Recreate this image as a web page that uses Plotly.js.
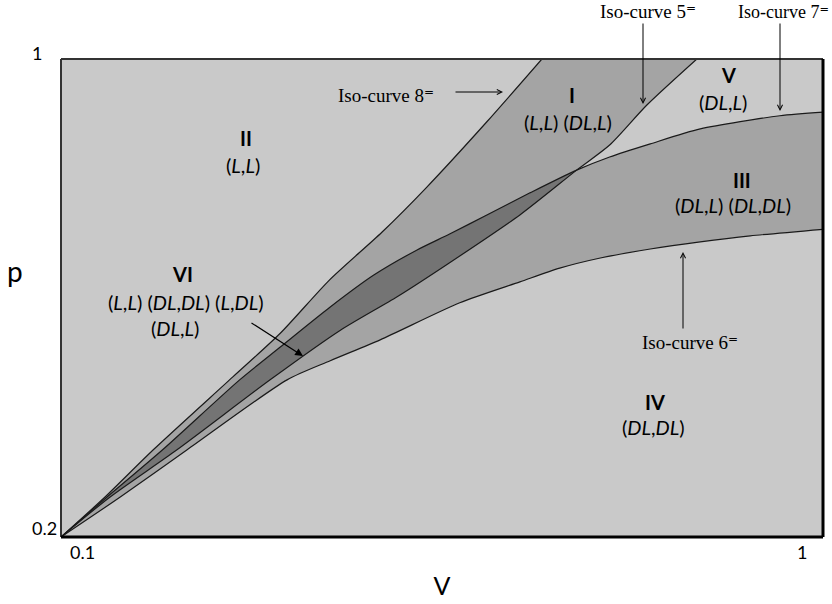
<!DOCTYPE html>
<html><head><meta charset="utf-8">
<script src="https://cdn.plot.ly/plotly-3.0.1.min.js"></script>
<style>html,body{margin:0;padding:0;background:#fff}</style>
</head><body><div id="chart" style="width:832px;height:604px"></div>
<script>
// Iso-curve 8 (steepest, upper-left boundary)
const curve8X = [0.100, 0.152, 0.209, 0.303, 0.359, 0.417, 0.479, 0.531, 0.603, 0.668];
const curve8Y = [0.200, 0.267, 0.346, 0.468, 0.541, 0.630, 0.710, 0.784, 0.895, 1.000];
// Iso-curve 7 (concave, upper)
const curve7X = [0.100, 0.152, 0.220, 0.311, 0.359, 0.418, 0.469, 0.520, 0.559, 0.603, 0.654, 0.709, 0.748, 0.796, 0.855, 0.949, 1.000];
const curve7Y = [0.200, 0.264, 0.346, 0.463, 0.518, 0.585, 0.638, 0.680, 0.707, 0.739, 0.776, 0.814, 0.836, 0.858, 0.883, 0.905, 0.911];
// Iso-curve 5
const curve5X = [0.100, 0.158, 0.237, 0.347, 0.430, 0.497, 0.559, 0.642, 0.709, 0.748, 0.792, 0.851];
const curve5Y = [0.200, 0.267, 0.346, 0.463, 0.546, 0.602, 0.659, 0.739, 0.814, 0.856, 0.923, 1.000];
// Iso-curve 6 (concave, lower)
const curve6X = [0.100, 0.170, 0.249, 0.367, 0.418, 0.477, 0.571, 0.642, 0.689, 0.737, 0.796, 0.855, 0.914, 1.000];
const curve6Y = [0.200, 0.267, 0.346, 0.463, 0.495, 0.530, 0.592, 0.627, 0.650, 0.667, 0.682, 0.694, 0.704, 0.715];
// crossing of curves 7 and 5
const crossX = 0.709;

const xTickVals = [0.1, 1];
const xTickText = ['0.1', '1'];
const yTickVals = [0.2, 1];
const yTickText = ['0.2', '1'];

const BG = '#c9c9c9', MID = '#a4a4a4', DARK = '#747474', LINE = '#1a1a1a';
const SANS = 'Lato, "Open Sans", sans-serif';
const SERIF = '"Liberation Serif", "DejaVu Serif", serif';
const SM = 0.7;

const n7 = curve7X.filter(v => v <= crossX).length, n5 = curve5X.filter(v => v <= crossX).length;

const base = (x, y) => ({x, y, type: 'scatter', mode: 'lines', line: {width: 0, shape: 'spline', smoothing: SM},
  hoverinfo: 'skip', showlegend: false});
const fillTo = (x, y, c) => Object.assign(base(x, y), {fill: 'tonexty', fillcolor: c});
const lineTrace = (x, y) => ({x, y, type: 'scatter', mode: 'lines',
  line: {color: LINE, width: 1.2, shape: 'spline', smoothing: SM}, showlegend: false});

const data = [
  base(curve5X, curve5Y),
  fillTo(curve8X, curve8Y, MID),
  base(curve6X, curve6Y),
  fillTo(curve7X, curve7Y, MID),
  base(curve5X.slice(0, n5), curve5Y.slice(0, n5)),
  fillTo(curve7X.slice(0, n7), curve7Y.slice(0, n7), DARK),
  lineTrace(curve8X, curve8Y),
  lineTrace(curve7X, curve7Y),
  lineTrace(curve5X, curve5Y),
  lineTrace(curve6X, curve6Y)
];

const L = 61, R = 823, T = 59, B = 537;
const PX = px => (px - L) / (R - L);
const PY = py => (B - py) / (B - T);

const txt = (px, py, text, size, fam) => ({xref: 'paper', yref: 'paper', x: PX(px), y: PY(py), text, showarrow: false,
  font: {family: fam || SANS, size: size || 20, color: '#000'}, xanchor: 'center', yanchor: 'middle'});
const arr = (px, py, ax, ay, head, w, size) => ({xref: 'paper', yref: 'paper', x: PX(px), y: PY(py), text: '', showarrow: true,
  ax, ay, arrowhead: head, arrowwidth: w, arrowsize: size, arrowcolor: '#000'});

const ann = [
  txt(246, 138, '<b>II</b>'), txt(243, 165, '(<i>L</i>,<i>L</i>)'),
  txt(572, 95, '<b>I</b>'), txt(568, 122, '(<i>L</i>,<i>L</i>) (<i>DL</i>,<i>L</i>)'),
  txt(728, 75, '<b>V</b>'), txt(723, 102, '(<i>DL</i>,<i>L</i>)'),
  txt(742, 180, '<b>III</b>'), txt(733, 205, '(<i>DL</i>,<i>L</i>) (<i>DL</i>,<i>DL</i>)'),
  txt(655, 402, '<b>IV</b>'), txt(653, 427, '(<i>DL</i>,<i>DL</i>)'),
  txt(182, 274, '<b>VI</b>'), txt(186, 302, '(<i>L</i>,<i>L</i>) (<i>DL</i>,<i>DL</i>) (<i>L</i>,<i>DL</i>)'), txt(175, 328, '(<i>DL</i>,<i>L</i>)'),
  txt(386, 96, 'Iso-curve 8⁼', 19, SERIF),
  txt(648, 12, 'Iso-curve 5⁼', 19, SERIF),
  txt(783, 12, 'Iso-curve 7⁼', 18, SERIF),
  txt(690, 342, 'Iso-curve 6⁼', 19, SERIF),
  txt(15, 271, 'p', 28),
  arr(503, 92, -49, 0, 5, 1, 1),
  arr(643, 104, 0, -82, 5, 1, 1),
  arr(780, 111, 0, -89, 5, 1, 1),
  arr(683, 252, 0, 78, 5, 1, 1),
  arr(303, 356, -53, -34, 2, 1.2, 1.3)
];
// tick labels from arrays, placed through the axis scales
xTickVals.forEach((v, i) => ann.push({xref: 'x', yref: 'paper', x: v, y: 0, yshift: -28, xshift: i === 0 ? 21 : -21,
  text: xTickText[i], showarrow: false, font: {family: SANS, size: 18, color: '#000'}}));
yTickVals.forEach((v, i) => ann.push({xref: 'paper', yref: 'y', x: 0, y: v, xshift: -31, yshift: i === 0 ? 9 : 6,
  text: yTickText[i], showarrow: false, font: {family: SANS, size: 18, color: '#000'}}));

const layout = {
  width: 832, height: 604,
  margin: {l: L, r: 832 - R, t: T, b: 604 - B, pad: 0},
  paper_bgcolor: '#fff', plot_bgcolor: BG,
  xaxis: {range: [0.1, 1], showgrid: false, zeroline: false, showticklabels: false, ticks: '', showline: false,
    title: {text: 'V', font: {family: SANS, size: 25, color: '#000'}, standoff: 40}},
  yaxis: {range: [0.2, 1], showgrid: false, zeroline: false, showticklabels: false, ticks: '', showline: false},
  shapes: [
    {type: 'line', xref: 'paper', yref: 'paper', x0: 0, x1: 1, y0: 1, y1: 1, line: {color: '#333', width: 2}, layer: 'above'},
    {type: 'line', xref: 'paper', yref: 'paper', x0: 0, x1: 0, y0: 0, y1: 1, line: {color: '#333', width: 2}, layer: 'above'},
    {type: 'line', xref: 'paper', yref: 'paper', x0: 0, x1: 1, y0: 0, y1: 0, line: {color: '#000', width: 3}, layer: 'above'},
    {type: 'line', xref: 'paper', yref: 'paper', x0: 1, x1: 1, y0: 0, y1: 1, line: {color: '#000', width: 3}, layer: 'above'}
  ],
  annotations: ann,
  showlegend: false
};
Plotly.newPlot('chart', data, layout, {displayModeBar: false, staticPlot: true});
</script></body></html>
